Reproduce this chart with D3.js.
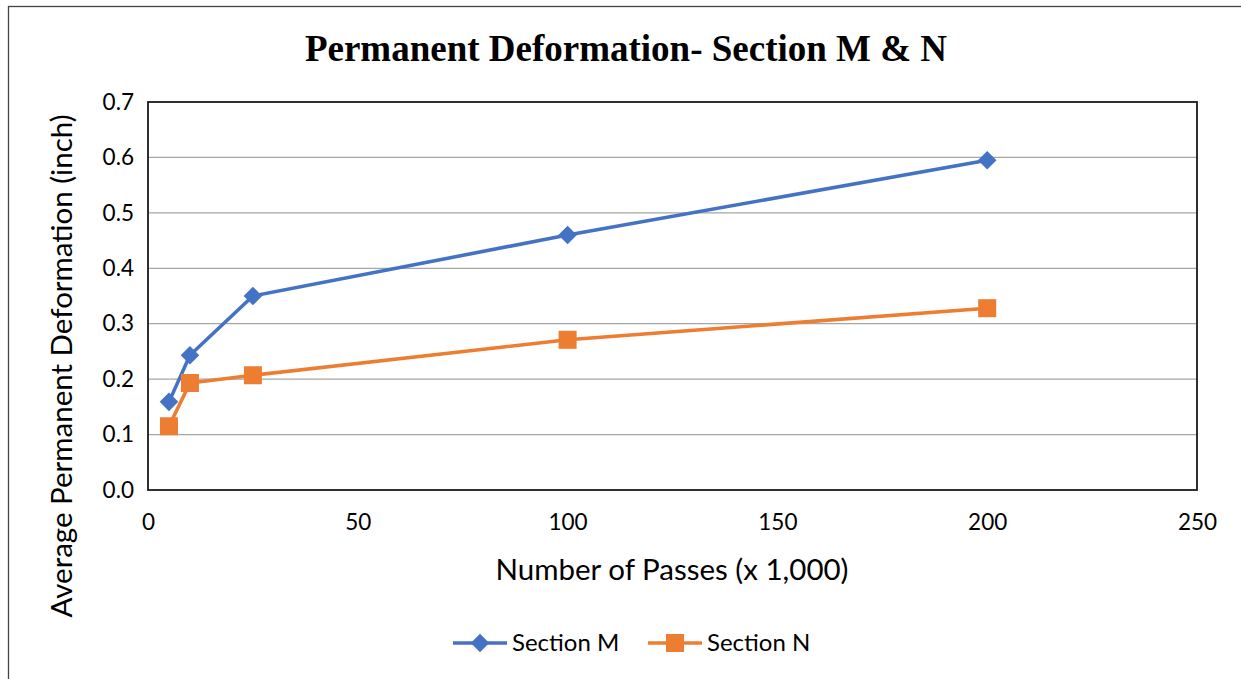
<!DOCTYPE html>
<html><head><meta charset="utf-8">
<script src="https://cdn.jsdelivr.net/npm/d3@7"></script>
<style>body{margin:0;background:#fff}</style>
</head><body>
<script>
const passes = [5, 10, 25, 100, 200];
const sectionM = [0.159, 0.243, 0.350, 0.460, 0.595];
const sectionN = [0.115, 0.193, 0.207, 0.271, 0.328];
const xTicks = [0, 50, 100, 150, 200, 250];
const yTicks = [0, 0.1, 0.2, 0.3, 0.4, 0.5, 0.6, 0.7];
const seriesNames = ["Section M", "Section N"];
const colors = ["#4472C4", "#ED7D31"];

const W = 1241, H = 679;
const svg = d3.select("body").append("svg").attr("width", W).attr("height", H);
const font = "Lato, 'Open Sans', sans-serif";

svg.append("rect").attr("x", 8.5).attr("y", 6.5).attr("width", W + 10).attr("height", H + 10)
  .attr("fill", "#fff").attr("stroke", "#444").attr("stroke-width", 1.3);

const L = 148, R = 1197, T = 102, B = 490;
const x = d3.scaleLinear().domain([0, 250]).range([L, R]);
const y = d3.scaleLinear().domain([0, 0.7]).range([B, T]);

// gridlines
svg.append("g").selectAll("line").data(yTicks.slice(1, -1)).join("line")
  .attr("x1", L).attr("x2", R).attr("y1", d => y(d)).attr("y2", d => y(d))
  .attr("stroke", "#a6a6a6").attr("stroke-width", 1.3);

// axes
const yAxis = d3.axisLeft(y).tickValues(yTicks).tickFormat(d3.format(".1f")).tickSize(0).tickPadding(14);
const gy = svg.append("g").attr("transform", `translate(${L},0)`).call(yAxis);
gy.select(".domain").remove();
gy.selectAll("text").attr("font-family", font).attr("font-size", 22.5).attr("fill", "#000");

const xAxis = d3.axisBottom(x).tickValues(xTicks).tickFormat(d3.format("d")).tickSize(0).tickPadding(24);
const gx = svg.append("g").attr("transform", `translate(0,${B})`).call(xAxis);
gx.select(".domain").remove();
gx.selectAll("text").attr("font-family", font).attr("font-size", 22.5).attr("fill", "#000");

// plot border
svg.append("rect").attr("x", L).attr("y", T).attr("width", R - L).attr("height", B - T)
  .attr("fill", "none").attr("stroke", "#1a1a1a").attr("stroke-width", 1.8);

// lines
const line = d3.line().x(d => x(d[0])).y(d => y(d[1]));
const data = [sectionM, sectionN].map(s => passes.map((p, i) => [p, s[i]]));
data.forEach((d, i) => {
  svg.append("path").datum(d).attr("d", line).attr("fill", "none")
    .attr("stroke", colors[i]).attr("stroke-width", 3.6).attr("stroke-linejoin", "round");
});
const diamond = d3.symbol().type(d3.symbolDiamond2).size(220);
svg.append("g").selectAll("path").data(data[0]).join("path")
  .attr("d", diamond).attr("transform", d => `translate(${x(d[0])},${y(d[1])})`)
  .attr("fill", colors[0]);
svg.append("g").selectAll("rect").data(data[1]).join("rect")
  .attr("x", d => x(d[0]) - 9).attr("y", d => y(d[1]) - 9).attr("width", 18).attr("height", 18)
  .attr("fill", colors[1]);

// title
svg.append("text").attr("x", 626).attr("y", 61).attr("text-anchor", "middle")
  .attr("font-family", "'Liberation Serif', 'Times New Roman', serif").attr("font-weight", "bold")
  .attr("font-size", 37).text("Permanent Deformation- Section M & N");

// axis titles
svg.append("text").attr("x", 672).attr("y", 580).attr("text-anchor", "middle")
  .attr("font-family", font).attr("font-size", 29.5).text("Number of Passes (x 1,000)");
svg.append("text").attr("transform", "translate(72,366) rotate(-90)").attr("text-anchor", "middle")
  .attr("font-family", font).attr("font-size", 29.5).text("Average Permanent Deformation (inch)");

// legend
const legX = [453, 648];
seriesNames.forEach((name, i) => {
  const g = svg.append("g").attr("transform", `translate(${legX[i]},643)`);
  g.append("line").attr("x1", 0).attr("x2", 54).attr("stroke", colors[i]).attr("stroke-width", 3.6);
  if (i === 0) g.append("path").attr("d", diamond).attr("transform", "translate(27,0)").attr("fill", colors[i]);
  else g.append("rect").attr("x", 18).attr("y", -9).attr("width", 18).attr("height", 18).attr("fill", colors[i]);
  g.append("text").attr("x", 59).attr("y", 8).attr("font-family", font).attr("font-size", 24).text(name);
});
</script>
</body></html>
